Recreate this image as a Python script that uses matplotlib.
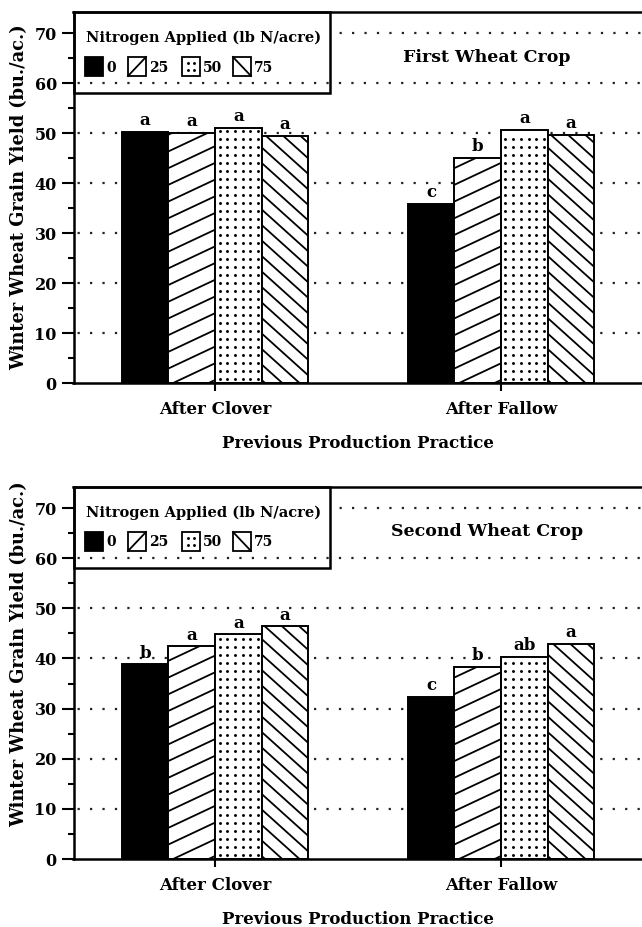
import matplotlib
matplotlib.use('Agg')
import matplotlib.pyplot as pl
import numpy as np
from matplotlib.patches import Rectangle
from matplotlib.lines import Line2D

pl.rcParams['font.family'] = 'DejaVu Serif'
pl.rcParams['font.weight'] = 'bold'
pl.rcParams['axes.labelweight'] = 'bold'

practices = ['After Clover', 'After Fallow']
nitrogen_rates = ['0', '25', '50', '75']
patterns = ['solid', 'rising', 'dots', 'falling']

# First wheat crop yields (bu./ac.) per nitrogen rate
first_clover = [50.2, 50.0, 51.0, 49.4]
first_fallow = [35.8, 45.1, 50.6, 49.6]
first_letters = [['a', 'a', 'a', 'a'], ['c', 'b', 'a', 'a']]

# Second wheat crop
second_clover = [38.8, 42.4, 44.8, 46.4]
second_fallow = [32.4, 38.3, 40.3, 42.9]
second_letters = [['b', 'a', 'a', 'a'], ['c', 'b', 'ab', 'a']]

W, H = 642, 927
BAR_W = 0.1633


def at(ax, dx, dy):
    '''Pixel offset from the top left corner of the axes -> axes fraction.'''
    bb = ax.get_position()
    return dx / (bb.width * W), 1 - dy / (bb.height * H)


def fill_pattern(ax, bar, kind):
    if kind == 'solid':
        return
    x0, y0 = ax.transData.transform((bar.get_x(), bar.get_y()))
    x1, y1 = ax.transData.transform((bar.get_x() + bar.get_width(),
                                     bar.get_y() + bar.get_height()))
    inv = ax.transData.inverted()
    if kind == 'dots':
        xs = np.arange(x0 + 4.5, x1 - 2, 7.7)
        ys = np.arange(y0 + 4, y1 - 2, 8.0)
        gx, gy = np.meshgrid(xs, ys)
        pts = inv.transform(np.column_stack([gx.ravel(), gy.ravel()]))
        ax.plot(pts[:, 0], pts[:, 1], ls='none', marker='o', ms=2.1,
                mew=0, color='black', zorder=3)
        return
    slope = 0.47 if kind == 'rising' else -0.9
    step = 16.7 if kind == 'rising' else 15.5
    width = x1 - x0
    cmin = y0 - max(slope * width, 0)
    cmax = y1 - min(slope * width, 0)
    for c in np.arange(cmin + 3, cmax + step, step):
        pts = inv.transform([(x0, c), (x1, c + slope * width)])
        line, = ax.plot(pts[:, 0], pts[:, 1], color='black', lw=1.3,
                        solid_capstyle='butt', zorder=3)
        line.set_clip_path(bar)


def draw_legend(ax):
    bw, bh = at(ax, 256.5, 0)[0], 1 - at(ax, 0, 81)[1]
    ax.add_patch(Rectangle((0, 1 - bh), bw, bh, transform=ax.transAxes,
                           fill=False, lw=1.8, ec='black', clip_on=False,
                           zorder=6))
    ax.text(*at(ax, 13, 25.5), 'Nitrogen Applied (lb N/acre)',
            transform=ax.transAxes, ha='left', va='center', fontsize=10.5,
            zorder=6)
    offsets = [11.5, 54.5, 108.5, 159.5]
    sw, sh = 18, 19
    for dx, rate, kind in zip(offsets, nitrogen_rates, patterns):
        lx, ly = at(ax, dx, 45 + sh)
        rx, ty = at(ax, dx + sw, 45)
        ax.add_patch(Rectangle((lx, ly), rx - lx, ty - ly,
                               transform=ax.transAxes, lw=1.3, ec='black',
                               fc='black' if kind == 'solid' else 'white',
                               zorder=6))
        if kind == 'rising':
            ax.add_line(Line2D([lx, rx], [ly, ty], transform=ax.transAxes,
                               color='black', lw=1.3, zorder=7))
        elif kind == 'falling':
            ax.add_line(Line2D([lx, rx], [ty, ly], transform=ax.transAxes,
                               color='black', lw=1.3, zorder=7))
        elif kind == 'dots':
            fx = [lx + (rx - lx) / 3, lx + 2 * (rx - lx) / 3]
            fy = [ly + (ty - ly) / 3, ly + 2 * (ty - ly) / 3]
            gx, gy = np.meshgrid(fx, fy)
            ax.plot(gx.ravel(), gy.ravel(), ls='none', marker='o', ms=2.1,
                    mew=0, color='black', transform=ax.transAxes, zorder=7)
        ax.text(*at(ax, dx + sw + 3, 45 + sh / 2 + 1), rate,
                transform=ax.transAxes, ha='left', va='center',
                fontsize=10, zorder=6)
    return bw


def chart(ax, clover, fallow, letters, title, label_y):
    ax.set_xlim(-0.4948, 1.556)
    ax.set_ylim(0, 74.2)
    values = [clover, fallow]
    offsets = (np.arange(4) - 1.5) * BAR_W
    for g in range(2):
        for i in range(4):
            kind = patterns[i]
            bar = ax.bar(g + offsets[i], values[g][i], width=BAR_W,
                         color='black' if kind == 'solid' else 'white',
                         edgecolor='black', lw=1.4, zorder=2)[0]
            fill_pattern(ax, bar, kind)
            ax.annotate(letters[g][i], (g + offsets[i], values[g][i]),
                        xytext=(0, 2), textcoords='offset points',
                        ha='center', va='bottom', fontsize=12, zorder=4)

    legend_right = draw_legend(ax)
    for v in range(10, 80, 10):
        xmin = legend_right + 0.01 if v == 70 else 0
        ax.axhline(v, xmin=xmin, color='#222222', lw=1.6,
                   ls=(4, (1, 4.6)), zorder=1)

    ax.set_xticks([0, 1], practices)
    ax.set_yticks(np.arange(0, 80, 10))
    ax.set_yticks(np.arange(5, 70, 10), minor=True)
    ax.tick_params(axis='x', length=6, width=1.5, pad=7, labelsize=12)
    ax.tick_params(axis='y', which='major', length=8.5, width=1.5, pad=3.5,
                   labelsize=11.5)
    ax.tick_params(axis='y', which='minor', length=4, width=1.5)
    for side in ['left', 'top', 'bottom']:
        ax.spines[side].set_linewidth(1.8)
    ax.spines['right'].set_visible(False)

    ax.set_xlabel('Previous Production Practice', fontsize=12)
    ax.xaxis.set_label_coords(0.485, -0.14)
    ax.set_ylabel('Winter Wheat Grain Yield (bu./ac.)', fontsize=12.8)
    ax.yaxis.set_label_coords(-0.078, label_y)
    ax.text(*at(ax, 413.5, 45), title, transform=ax.transAxes,
            ha='center', va='center', fontsize=12.5)


fig = pl.figure(figsize=(W / 100, H / 100), dpi=100)
ax1 = fig.add_axes([73.5 / W, 1 - 383 / H, (660 - 73.5) / W, 371 / H])
ax2 = fig.add_axes([73.5 / W, 1 - 859 / H, (660 - 73.5) / W, 372 / H])
chart(ax1, first_clover, first_fallow, first_letters, 'First Wheat Crop', 0.5)
chart(ax2, second_clover, second_fallow, second_letters, 'Second Wheat Crop', 0.55)
fig.savefig('out.png', dpi=100)
